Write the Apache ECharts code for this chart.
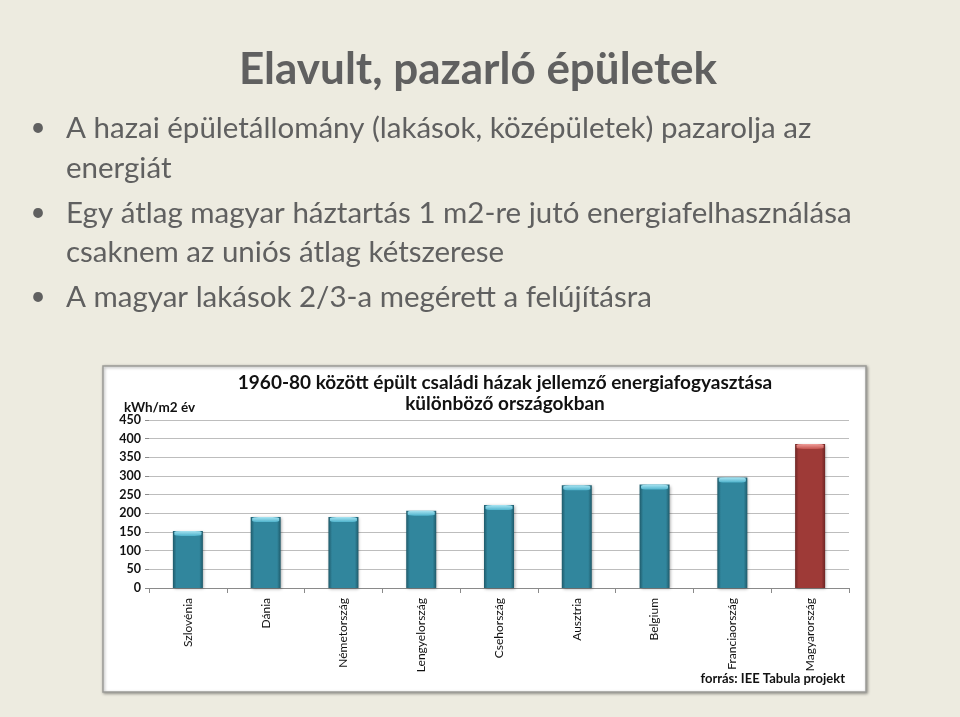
<!DOCTYPE html>
<html>
<head>
<meta charset="utf-8">
<script src="https://cdn.jsdelivr.net/npm/echarts@6/dist/echarts.min.js"></script>
<style>
html,body{margin:0;padding:0;background:#EDEBE0;}
#chart{width:960px;height:717px;}
</style>
</head>
<body>
<div id="chart"></div>
<script>
var slideTitle = 'Elavult, pazarló épületek';
var bulletLines = [
  ['A hazai épületállomány (lakások, középületek) pazarolja az', 'energiát'],
  ['Egy átlag magyar háztartás 1 m2-re jutó energiafelhasználása', 'csaknem az uniós átlag kétszerese'],
  ['A magyar lakások 2/3-a megérett a felújításra']
];
var chartTitle = '1960-80 között épült családi házak jellemző energiafogyasztása\nkülönböző országokban';
var unitLabel = 'kWh/m2 év';
var sourceLabel = 'forrás: IEE Tabula projekt';
var categories = ['Szlovénia', 'Dánia', 'Németország', 'Lengyelország', 'Csehország', 'Ausztria', 'Belgium', 'Franciaország', 'Magyarország'];
var values = [153, 190, 190, 207, 222, 275, 277, 296, 386];
var highlightCategory = 'Magyarország';

var FONT = 'Lato, "Open Sans", sans-serif';

function grad(dark, mid) {
  return new echarts.graphic.LinearGradient(0, 0, 1, 0, [
    {offset: 0, color: dark},
    {offset: 0.12, color: mid},
    {offset: 0.88, color: mid},
    {offset: 1, color: dark}
  ]);
}
var tealFill = grad('#1F5A6A', '#31869D');
var redFill = grad('#6E2524', '#9E3A37');
var tealTop = new echarts.graphic.LinearGradient(0, 0, 0, 1, [
  {offset: 0, color: '#A8E4F2'}, {offset: 1, color: '#4FB3CC'}
]);
var redTop = new echarts.graphic.LinearGradient(0, 0, 0, 1, [
  {offset: 0, color: '#F0A09C'}, {offset: 1, color: '#C45450'}
]);

var barData = categories.map(function (c, i) {
  return {value: values[i], itemStyle: {color: c === highlightCategory ? redFill : tealFill}};
});
var capData = categories.map(function (c, i) {
  return {value: values[i], itemStyle: {color: c === highlightCategory ? redTop : tealTop}};
});

var graphics = [
  {type: 'rect', z: -10, shape: {x: 103, y: 366, width: 763, height: 326},
   style: {fill: '#ffffff', stroke: '#9C9C98', lineWidth: 1.5, shadowBlur: 3, shadowColor: 'rgba(0,0,0,0.35)', shadowOffsetX: 1, shadowOffsetY: 1}},
  {type: 'text', style: {x: 478, y: 70, text: slideTitle, fill: '#606060', font: 'bold 44px ' + FONT, textAlign: 'center', textVerticalAlign: 'middle'}},
  {type: 'text', style: {x: 124, y: 408, text: unitLabel, fill: '#111', font: 'bold 13.5px ' + FONT, textAlign: 'left', textVerticalAlign: 'middle'}},
  {type: 'text', style: {x: 845, y: 679, text: sourceLabel, fill: '#111', font: 'bold 13px ' + FONT, textAlign: 'right', textVerticalAlign: 'middle'}}
];
var lineYs = [[128, 168], [213, 252], [297]];
bulletLines.forEach(function (lines, i) {
  graphics.push({type: 'text', style: {x: 38, y: lineYs[i][0], text: '•', fill: '#606060', font: '26px ' + FONT, textAlign: 'center', textVerticalAlign: 'middle'}});
  lines.forEach(function (t, j) {
    graphics.push({type: 'text', style: {x: 66, y: lineYs[i][j], text: t, fill: '#606060', font: '29.5px ' + FONT, textAlign: 'left', textVerticalAlign: 'middle'}});
  });
});

var chart = echarts.init(document.getElementById('chart'));
chart.setOption({
  backgroundColor: '#EDEBE0',
  animation: false,
  title: {
    text: chartTitle, left: 500, top: 367, textAlign: 'center',
    textStyle: {fontFamily: FONT, fontSize: 19, fontWeight: 'bold', color: '#111', lineHeight: 21}
  },
  graphic: graphics,
  grid: {left: 149, right: 111, top: 420, bottom: 129, containLabel: false},
  xAxis: {
    type: 'category', data: categories,
    axisLine: {lineStyle: {color: '#8A8A8A', width: 1}},
    axisTick: {show: true, length: 5, lineStyle: {color: '#8A8A8A'}},
    axisLabel: {rotate: 90, margin: 10, fontFamily: FONT, fontSize: 12, color: '#111', interval: 0}
  },
  yAxis: {
    type: 'value', min: 0, max: 450, interval: 50,
    axisLine: {show: false},
    axisTick: {show: true, length: 4, lineStyle: {color: '#8A8A8A'}},
    axisLabel: {margin: 8, fontFamily: FONT, fontSize: 12.5, fontWeight: 'bold', color: '#111'},
    splitLine: {lineStyle: {color: '#BDBDBD', width: 1}}
  },
  series: [
    {type: 'bar', data: barData, barWidth: 30,
     itemStyle: {shadowBlur: 3, shadowColor: 'rgba(0,0,0,0.35)', shadowOffsetX: 1, shadowOffsetY: 1}},
    {type: 'pictorialBar', data: capData, symbol: 'roundRect', symbolSize: [27, 5],
     symbolPosition: 'end', symbolOffset: [0, 0], z: 3}
  ]
});
</script>
</body>
</html>
